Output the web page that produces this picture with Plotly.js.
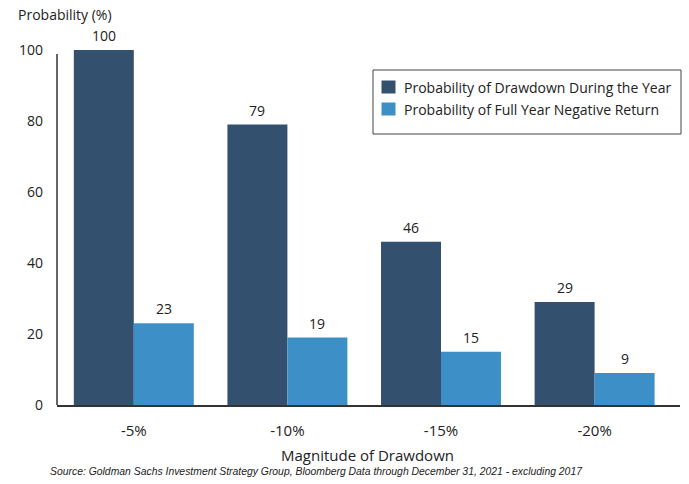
<!DOCTYPE html>
<html><head><meta charset="utf-8">
<script src="https://cdn.plot.ly/plotly-3.0.1.min.js"></script>
<style>body{margin:0;background:#fff}#chart{width:689px;height:484px}</style>
</head><body><div id="chart"></div>
<script>
const categories = ["-5%", "-10%", "-15%", "-20%"];
const drawdownDuringYear = [100, 79, 46, 29];
const fullYearNegative = [23, 19, 15, 9];
const seriesNames = ["Probability of Drawdown During the Year", "Probability of Full Year Negative Return"];
const seriesColors = ["#34506f", "#3c90c7"];
const yTicks = [0, 20, 40, 60, 80, 100];

const F = "Open Sans, Noto Sans, sans-serif";
const TXT = "#222";
const traces = [
  {type:"bar", name:seriesNames[0], x:categories, y:drawdownDuringYear,
   marker:{color:seriesColors[0]}, cliponaxis:false, hoverinfo:"none", showlegend:false},
  {type:"bar", name:seriesNames[1], x:categories, y:fullYearNegative,
   marker:{color:seriesColors[1]}, cliponaxis:false, hoverinfo:"none", showlegend:false}
];

// plot area: x 57..680, y 50..405 (0..100)
const L = 57, R = 680, T = 50, B = 405;
const W = R - L, H = B - T;
const px = v => (v - L) / W;     // pixel x -> paper
const py = v => (B - v) / H;     // pixel y -> paper

const annotations = [];
[drawdownDuringYear, fullYearNegative].forEach((vals, s) => {
  vals.forEach((v, i) => annotations.push({
    text: String(v), xref:"x", yref:"y", x:categories[i], y:v, xshift: s === 0 ? -30 : 30,
    yshift: 3, xanchor:"center", yanchor:"bottom", showarrow:false,
    font:{family:F, size:14, color:TXT}
  }));
});
annotations.push(
  {text:"Probability (%)", xref:"paper", yref:"paper", x:px(16), y:py(15), xanchor:"left", yanchor:"middle",
   showarrow:false, font:{family:F,size:14,color:TXT}},
  {text:"Magnitude of Drawdown", xref:"paper", yref:"paper", x:px(367.5), y:py(455), xanchor:"center", yanchor:"middle",
   showarrow:false, font:{family:F,size:15,color:TXT}},
  {text:"<i>Source: Goldman Sachs Investment Strategy Group, Bloomberg Data through December 31, 2021 - excluding 2017</i>",
   xref:"paper", yref:"paper", x:px(48), y:py(471), xanchor:"left", yanchor:"middle",
   showarrow:false, font:{family:"Liberation Sans, Arial, sans-serif",size:10.4,color:TXT}}
);
// legend (drawn box, swatches, labels)
const legRows = [87, 109];
seriesNames.forEach((n, s) => annotations.push({
  text:n, xref:"paper", yref:"paper", x:px(402), y:py(legRows[s]), xanchor:"left", yanchor:"middle",
  showarrow:false, font:{family:F,size:14,color:TXT}
}));

const shapes = [
  {type:"line", xref:"paper", yref:"paper", x0:0, x1:0, y0:0, y1:py(54), line:{color:"#333", width:1.5}},
  {type:"rect", xref:"paper", yref:"paper", x0:px(373), x1:px(681), y0:py(70), y1:py(134),
   line:{color:"#444", width:1}, fillcolor:"#fff", layer:"above"}
];
seriesColors.forEach((c, s) => shapes.push({
  type:"rect", xref:"paper", yref:"paper", x0:px(381.5), x1:px(395.5),
  y0:py(legRows[s] + 6.5), y1:py(legRows[s] - 6.5), line:{width:0}, fillcolor:c, layer:"above"
}));

const layout = {
  width:689, height:484,
  margin:{l:L, r:689 - R, t:T, b:484 - B},
  paper_bgcolor:"#fff", plot_bgcolor:"#fff",
  barmode:"group", bargap:0.219, bargroupgap:0,
  font:{family:F, size:13, color:TXT},
  showlegend:false,
  xaxis:{type:"category", range:[-0.5, 3.556], showline:true, linecolor:"#333", linewidth:1.5, ticks:"",
         showgrid:false, zeroline:false, tickfont:{family:F,size:15,color:TXT}, ticklabelstandoff:11, fixedrange:true},
  yaxis:{range:[0,100], tickvals:yTicks, showline:false, ticks:"",
         showgrid:false, zeroline:false, tickfont:{family:F,size:14,color:TXT}, ticklabelstandoff:13, fixedrange:true},
  annotations:annotations,
  shapes:shapes
};
Plotly.newPlot("chart", traces, layout, {displayModeBar:false, staticPlot:true});
</script></body></html>
